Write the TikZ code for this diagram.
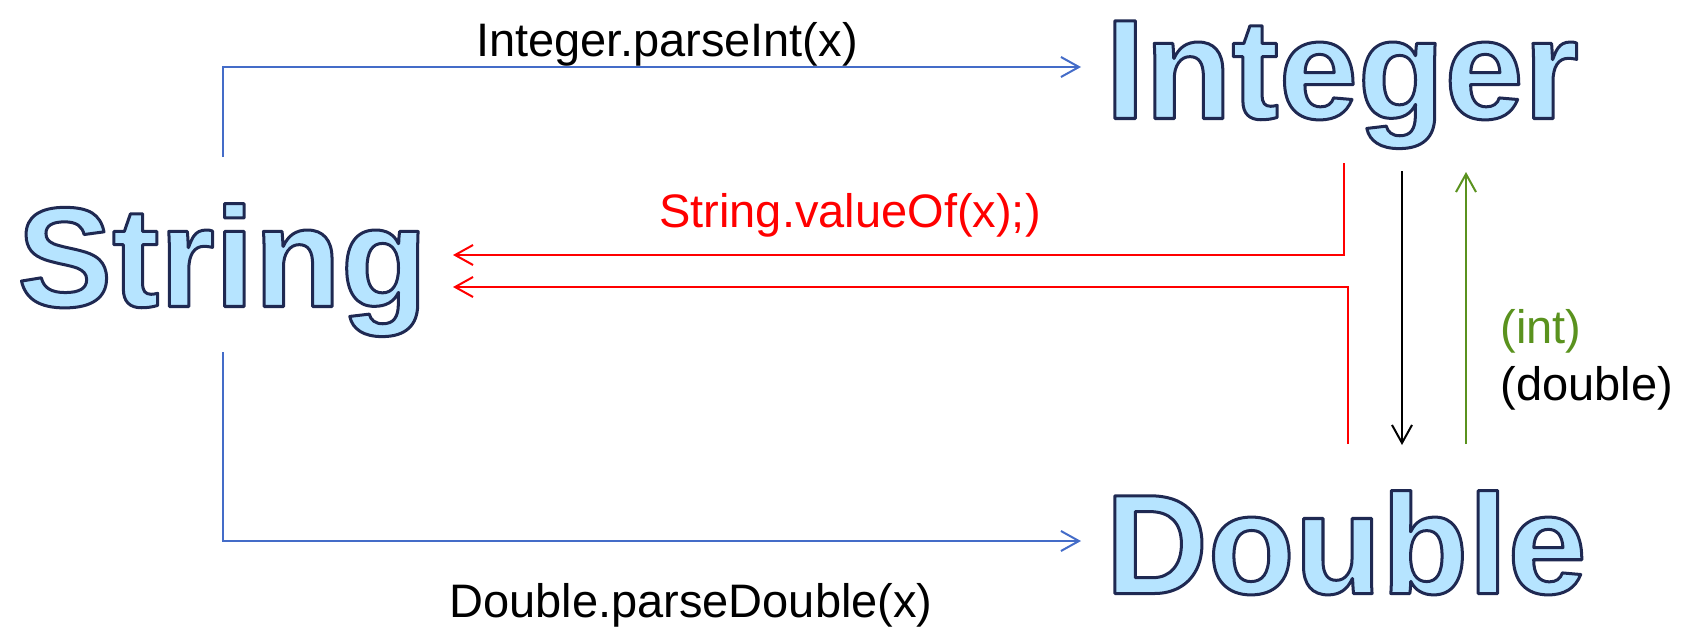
\documentclass[tikz,border=0pt]{standalone}
\usepackage{fontspec}
\setmainfont{Liberation Sans}
\usetikzlibrary{arrows.meta}

\definecolor{linkblue}{RGB}{68,108,200}
\definecolor{wordfill}{RGB}{182,228,255}
\definecolor{castgreen}{RGB}{90,146,30}

% type names: glyphs filled and then stroked with a dark navy outline
\newcommand\outlined[1]{\special{pdf:literal direct 2 Tr 1.5 w 1 j 0.12 0.16 0.32 RG}#1\special{pdf:literal direct 0 Tr}}

\tikzset{
  typename/.style={anchor=base west, inner sep=0pt, text=wordfill,
    font=\fontsize{71}{71}\selectfont\bfseries},
  convtext/.style={inner sep=0pt, font=\fontsize{23.5}{23.5}\selectfont},
  conv/.style={line width=1pt, -{Straight Barb[length=9pt,width=10pt]}},
}

\begin{document}
\begin{tikzpicture}[x=0.5pt,y=-0.5pt]
\useasboundingbox (0,0) rectangle (1691,627);

% the three types
\node[typename] (String)  at (17,306.5)   {\outlined{String}};
\node[typename] (Integer) at (1105,118.5) {\outlined{Integer}};
\node[typename] (Double)  at (1105,593.5) {\outlined{Double}};

% conversion labels
\node[convtext, anchor=base] (parseint) at (667,56) {Integer.parseInt(x)};
\node[convtext, anchor=base, text=red] (valueof) at (850,227) {String.valueOf(x);)};
\node[convtext, anchor=base] (parsedouble) at (691,617) {Double.parseDouble(x)};
\node[convtext, anchor=base west, text=castgreen] (castint) at (1500,343) {(int)};
\node[convtext, anchor=base west] (castdouble) at (1500,400) {(double)};

% connector end points
\coordinate (s-up)     at (223,157);
\coordinate (i-in)     at (1081,67);
\coordinate (s-down)   at (223,352);
\coordinate (d-in)     at (1081,541);
\coordinate (i-out)    at (1344,163);
\coordinate (s-in1)    at (453,255);
\coordinate (d-out)    at (1348,444);
\coordinate (s-in2)    at (453,287);
\coordinate (i-down)   at (1402,171);
\coordinate (d-top)    at (1402,445);
\coordinate (d-up)     at (1466,444);
\coordinate (i-bottom) at (1466,172);

% conversions
\draw[conv, linkblue] (s-up) |- (i-in);
\draw[conv, linkblue] (s-down) |- (d-in);
\draw[conv, red] (i-out) |- (s-in1);
\draw[conv, red] (d-out) |- (s-in2);
\draw[conv, black] (i-down) -- (d-top);
\draw[conv, castgreen] (d-up) -- (i-bottom);
\end{tikzpicture}
\end{document}
